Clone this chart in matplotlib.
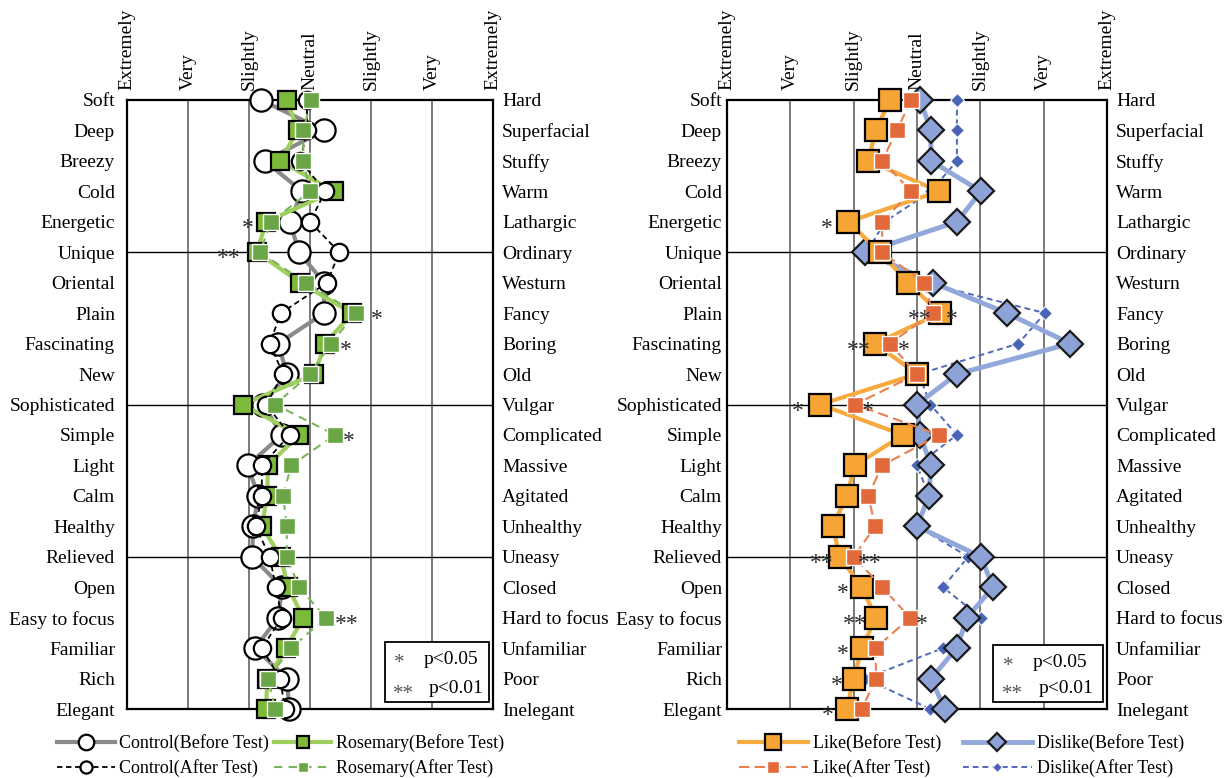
import matplotlib

matplotlib.use("Agg")
import matplotlib.pyplot as plt
import matplotlib.transforms as mtransforms
from matplotlib.lines import Line2D
from matplotlib.patches import Rectangle

plt.rcParams["font.family"] = ["Liberation Serif", "DejaVu Serif"]

LEFT_WORDS = ["Soft", "Deep", "Breezy", "Cold", "Energetic", "Unique", "Oriental", "Plain",
              "Fascinating", "New", "Sophisticated", "Simple", "Light", "Calm", "Healthy",
              "Relieved", "Open", "Easy to focus", "Familiar", "Rich", "Elegant"]
RIGHT_WORDS = ["Hard", "Superfacial", "Stuffy", "Warm", "Lathargic", "Ordinary", "Westurn", "Fancy",
               "Boring", "Old", "Vulgar", "Complicated", "Massive", "Agitated", "Unhealthy",
               "Uneasy", "Closed", "Hard to focus", "Unfamiliar", "Poor", "Inelegant"]
SCALE_LABELS = ["Extremely", "Very", "Slightly", "Neutral", "Slightly", "Very", "Extremely"]
SCALE_TICKS = [-3, -2, -1, 0, 1, 2, 3]

# left panel: control vs rosemary
CONTROL_BEFORE = [-0.80, 0.23, -0.74, -0.13, -0.33, -0.18, 0.23, 0.23, -0.52, -0.38, -0.77,
                  -0.46, -1.02, -0.85, -0.93, -0.95, -0.46, -0.52, -0.90, -0.38, -0.34]
CONTROL_AFTER = [-0.05, -0.05, -0.16, 0.25, 0.00, 0.48, 0.28, -0.48, -0.66, -0.44, -0.72,
                 -0.33, -0.79, -0.79, -0.89, -0.66, -0.56, -0.46, -0.79, -0.49, -0.41]
ROSEMARY_BEFORE = [-0.38, -0.20, -0.49, 0.39, -0.72, -0.87, -0.16, 0.69, 0.25, 0.07, -1.10,
                   -0.18, -0.69, -0.70, -0.79, -0.48, -0.36, -0.11, -0.39, -0.70, -0.72]
ROSEMARY_AFTER = [0.02, -0.11, -0.11, 0.00, -0.64, -0.82, -0.07, 0.75, 0.34, 0.00, -0.57,
                  0.41, -0.31, -0.44, -0.38, -0.38, -0.18, 0.26, -0.31, -0.69, -0.57]
LEFT_STARS = [(4, -1.02, "*"), (5, -1.34, "**"), (7, 1.10, "*"), (8, 0.59, "*"),
              (11, 0.64, "*"), (17, 0.61, "**")]

# right panel: like vs dislike
LIKE_BEFORE = [-0.43, -0.65, -0.77, 0.35, -1.09, -0.58, -0.14, 0.36, -0.66, 0.00, -1.53,
               -0.22, -0.98, -1.11, -1.33, -1.22, -0.87, -0.65, -0.87, -1.00, -1.11]
LIKE_AFTER = [-0.09, -0.32, -0.55, -0.09, -0.55, -0.55, 0.11, 0.25, -0.43, 0.00, -0.98,
              0.35, -0.55, -0.77, -0.66, -1.00, -0.55, -0.11, -0.65, -0.65, -0.87]
DISLIKE_BEFORE = [0.05, 0.22, 0.22, 1.01, 0.63, -0.82, 0.25, 1.42, 2.42, 0.63, 0.00,
                  0.05, 0.22, 0.19, 0.00, 1.01, 1.20, 0.79, 0.63, 0.22, 0.44]
DISLIKE_AFTER = [0.63, 0.63, 0.63, 0.22, -0.51, -0.79, 0.13, 2.02, 1.60, 0.03, 0.21,
                 0.63, 0.00, 0.19, 0.00, 0.81, 0.41, 1.01, 0.41, -0.82, 0.21]
RIGHT_STARS = [(4, -1.42, "*"), (7, 0.05, "**"), (7, 0.55, "*"), (8, -0.92, "**"), (8, -0.21, "*"),
               (10, -1.88, "*"), (10, -0.77, "*"), (15, -1.50, "**"), (15, -0.74, "**"),
               (16, -1.17, "*"), (17, -0.98, "**"), (17, 0.08, "*"), (18, -1.17, "*"),
               (19, -1.26, "*"), (20, -1.41, "*")]

FS = 14
LEGEND_FS = 13
ROWS = list(range(len(LEFT_WORDS)))

STYLE = {
    "cb": dict(color="#8a8a8a", lw=3, marker="o", ms=16, mfc="white", mec="black", mew=1.6),
    "ca": dict(color="black", lw=1.3, ls=(0, (3, 2)), marker="o", ms=12.5, mfc="white", mec="black", mew=1.6),
    "rb": dict(color="#9fd05f", lw=3, marker="s", ms=13, mfc="#7cbb3a", mec="black", mew=1.6),
    "ra": dict(color="#7db55a", lw=1.5, ls=(0, (4, 3)), marker="s", ms=11, mfc="#6aa646", mec="white", mew=1.0),
    "lb": dict(color="#f6aa40", lw=3, marker="s", ms=15.5, mfc="#f6a535", mec="black", mew=1.6),
    "la": dict(color="#e8804f", lw=1.5, ls=(0, (5, 2.5)), marker="s", ms=12, mfc="#e2693a", mec="white", mew=1.0),
    "db": dict(color="#93a8da", lw=3.5, marker="D", ms=13, mfc="#8da2d6", mec="#1a1a1a", mew=1.6),
    "da": dict(color="#5068b8", lw=1.4, ls=(0, (3, 2)), marker="D", ms=7.5, mfc="#4a64b8", mec="white", mew=0.8),
}


def setup_panel(fig, ax, left_gap):
    ax.set_xlim(-3, 3)
    ax.set_ylim(len(ROWS) - 1, 0)
    ax.set_xticks([])
    ax.set_yticks([])
    for spine in ax.spines.values():
        spine.set_linewidth(1.6)
        spine.set_zorder(1)
    for x in [-2, -1, 0, 1, 2]:
        ax.axvline(x, color="#7a7a7a", lw=1.4, zorder=0)
    for r in [5, 10, 15]:
        ax.axhline(r, color="black", lw=1.0, zorder=0)

    left_off = mtransforms.offset_copy(ax.transData, fig=fig, x=-left_gap, y=-2, units="dots")
    right_off = mtransforms.offset_copy(ax.transData, fig=fig, x=9, y=-2, units="dots")
    top_off = mtransforms.offset_copy(ax.transData, fig=fig, x=0, y=10, units="dots")
    for r, (lw_, rw_) in enumerate(zip(LEFT_WORDS, RIGHT_WORDS)):
        ax.text(-3, r, lw_, ha="right", va="center", fontsize=FS, transform=left_off)
        ax.text(3, r, rw_, ha="left", va="center", fontsize=FS, transform=right_off)
    for x, lab in zip(SCALE_TICKS, SCALE_LABELS):
        ax.text(x, 0, lab, rotation=90, ha="center", va="bottom", fontsize=FS, transform=top_off)


def draw_series(ax, values, style, z):
    ax.plot(values, ROWS, zorder=z, clip_on=False, **style)


def draw_stars(ax, stars):
    for r, x, s in stars:
        ax.text(x, r + 0.4, s, ha="center", va="baseline", fontsize=17, color="#2a2a2a", zorder=10)


def draw_pbox(ax, x0, x1, y0, y1):
    ax.add_patch(Rectangle((x0, y0), x1 - x0, y1 - y0, transform=ax.transAxes,
                           facecolor="white", edgecolor="black", lw=1.3, zorder=11))
    ax.text(x0 + 0.04, y1 - 0.035, "*", transform=ax.transAxes, ha="center", va="center",
            fontsize=15, color="#555555", zorder=12)
    ax.text(x0 + 0.105, y1 - 0.028, "p<0.05", transform=ax.transAxes, ha="left", va="center", fontsize=FS, zorder=12)
    ax.text(x0 + 0.05, y0 + 0.012, "**", transform=ax.transAxes, ha="center", va="center",
            fontsize=15, color="#555555", zorder=12)
    ax.text(x0 + 0.12, y0 + 0.022, "p<0.01", transform=ax.transAxes, ha="left", va="center", fontsize=FS, zorder=12)


def legend_handle(style, ms_scale=0.7):
    kw = dict(style)
    kw["ms"] = style["ms"] * ms_scale
    return Line2D([0], [0], **kw)


def main():
    fig = plt.figure(figsize=(12.31, 7.78), dpi=100)
    ax_l = fig.add_axes([127 / 1231, 1 - 709 / 778, 366 / 1231, 609 / 778])
    ax_r = fig.add_axes([727 / 1231, 1 - 709 / 778, 380 / 1231, 609 / 778])

    setup_panel(fig, ax_l, 12)
    setup_panel(fig, ax_r, 5)

    draw_series(ax_l, CONTROL_BEFORE, STYLE["cb"], 3)
    draw_series(ax_l, ROSEMARY_BEFORE, STYLE["rb"], 4)
    draw_series(ax_l, CONTROL_AFTER, STYLE["ca"], 5)
    draw_series(ax_l, ROSEMARY_AFTER, STYLE["ra"], 6)
    draw_stars(ax_l, LEFT_STARS)
    draw_pbox(ax_l, 0.705, 0.989, 0.0115, 0.11)

    draw_series(ax_r, DISLIKE_AFTER, STYLE["da"], 3)
    draw_series(ax_r, DISLIKE_BEFORE, STYLE["db"], 4)
    draw_series(ax_r, LIKE_BEFORE, STYLE["lb"], 5)
    draw_series(ax_r, LIKE_AFTER, STYLE["la"], 6)
    draw_stars(ax_r, RIGHT_STARS)
    draw_pbox(ax_r, 0.70, 0.99, 0.0115, 0.105)

    h = [legend_handle(STYLE[k]) for k in ["cb", "ca", "rb", "ra"]]
    labels = ["Control(Before Test)", "Control(After Test)", "Rosemary(Before Test)", "Rosemary(After Test)"]
    fig.legend(h, labels, ncol=2, loc="upper left", bbox_to_anchor=(48 / 1231, 1 - 725 / 778),
               frameon=False, fontsize=LEGEND_FS, handlelength=3.2, handletextpad=0.25, columnspacing=0.25,
               borderpad=0, labelspacing=0.42)

    h = [legend_handle(STYLE[k]) for k in ["lb", "la", "db", "da"]]
    labels = ["Like(Before Test)", "Like(After Test)", "Dislike(Before Test)", "Dislike(After Test)"]
    fig.legend(h, labels, ncol=2, loc="upper left", bbox_to_anchor=(730 / 1231, 1 - 725 / 778),
               frameon=False, fontsize=LEGEND_FS, handlelength=3.8, handletextpad=0.3, columnspacing=1.2,
               borderpad=0, labelspacing=0.42)

    fig.savefig("out.png", dpi=100)
    plt.close(fig)


if __name__ == "__main__":
    main()
